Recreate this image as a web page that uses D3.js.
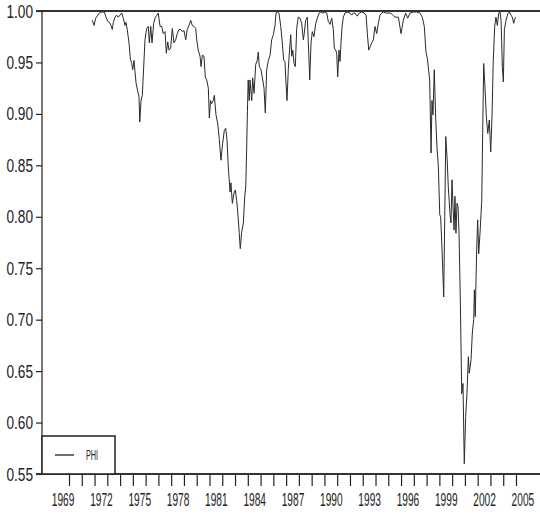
<!DOCTYPE html>
<html>
<head>
<meta charset="utf-8">
<script src="https://cdn.jsdelivr.net/npm/d3@7"></script>
<style>
body { margin: 0; background: #fff; }
svg { display: block; }
text { font-family: "Liberation Sans", Arial, sans-serif; fill: #222; }
</style>
</head>
<body>
<svg width="540" height="514"></svg>
<script>
// tick years (marks) and label years (centred in the year)
var yearTicks = d3.range(1970, 2006);
var yearLabels = [1969, 1972, 1975, 1978, 1981, 1984, 1987, 1990, 1993, 1996, 1999, 2002, 2005];
var valueTicks = [1.00, 0.95, 0.90, 0.85, 0.80, 0.75, 0.70, 0.65, 0.60, 0.55];

// series PHI (decimal year, value)
var years = [
  1971.82, 1971.96, 1972.09, 1972.25, 1972.37, 1972.51, 1972.64, 1972.76, 1972.90, 1973.03,
  1973.16, 1973.29, 1973.39, 1973.47, 1973.60, 1973.73, 1973.86, 1973.99, 1974.13, 1974.25,
  1974.38, 1974.46, 1974.56, 1974.70, 1974.80, 1974.91, 1974.99, 1975.09, 1975.17, 1975.25,
  1975.38, 1975.48, 1975.54, 1975.64, 1975.74, 1975.85, 1975.95, 1976.08, 1976.21, 1976.29,
  1976.40, 1976.50, 1976.63, 1976.76, 1976.89, 1976.99, 1977.13, 1977.26, 1977.38, 1977.52,
  1977.62, 1977.73, 1977.83, 1977.96, 1978.09, 1978.22, 1978.35, 1978.48, 1978.61, 1978.75,
  1978.87, 1979.00, 1979.14, 1979.26, 1979.40, 1979.53, 1979.65, 1979.79, 1979.92, 1980.00,
  1980.12, 1980.26, 1980.34, 1980.44, 1980.57, 1980.67, 1980.78, 1980.91, 1980.99, 1981.08,
  1981.17, 1981.30, 1981.38, 1981.51, 1981.64, 1981.77, 1981.90, 1982.03, 1982.16, 1982.27,
  1982.37, 1982.47, 1982.61, 1982.68, 1982.79, 1982.92, 1983.02, 1983.13, 1983.26, 1983.33,
  1983.41, 1983.52, 1983.65, 1983.76, 1983.84, 1983.91, 1983.97, 1984.03, 1984.11, 1984.17,
  1984.31, 1984.38, 1984.49, 1984.62, 1984.74, 1984.82, 1984.90, 1985.03, 1985.17, 1985.27,
  1985.37, 1985.48, 1985.61, 1985.74, 1985.87, 1986.00, 1986.13, 1986.21, 1986.31, 1986.44,
  1986.58, 1986.70, 1986.81, 1986.91, 1986.99, 1987.07, 1987.17, 1987.25, 1987.36, 1987.44,
  1987.52, 1987.62, 1987.72, 1987.83, 1987.95, 1988.09, 1988.22, 1988.35, 1988.42, 1988.53,
  1988.66, 1988.74, 1988.85, 1988.95, 1989.05, 1989.18, 1989.32, 1989.44, 1989.58, 1989.71,
  1989.87, 1990.05, 1990.18, 1990.30, 1990.44, 1990.57, 1990.70, 1990.77, 1990.88, 1990.96,
  1991.04, 1991.14, 1991.22, 1991.30, 1991.38, 1991.48, 1991.61, 1991.79, 1992.00, 1992.14,
  1992.26, 1992.39, 1992.57, 1992.73, 1992.92, 1993.10, 1993.26, 1993.36, 1993.47, 1993.57,
  1993.70, 1993.83, 1993.96, 1994.09, 1994.22, 1994.35, 1994.49, 1994.61, 1994.82, 1995.00,
  1995.19, 1995.35, 1995.53, 1995.79, 1996.00, 1996.18, 1996.36, 1996.52, 1996.70, 1996.96,
  1997.23, 1997.48, 1997.66, 1997.82, 1997.95, 1998.06, 1998.13, 1998.24, 1998.35, 1998.42,
  1998.50, 1998.60, 1998.71, 1998.81, 1998.92, 1999.03, 1999.10, 1999.21, 1999.34, 1999.42,
  1999.50, 1999.60, 1999.70, 1999.83, 1999.91, 1999.99, 2000.07, 2000.15, 2000.22, 2000.30,
  2000.38, 2000.46, 2000.54, 2000.64, 2000.75, 2000.85, 2000.95, 2001.06, 2001.16, 2001.27,
  2001.34, 2001.48, 2001.58, 2001.69, 2001.74, 2001.81, 2001.92, 2002.00, 2002.08, 2002.18,
  2002.32, 2002.39, 2002.47, 2002.57, 2002.68, 2002.79, 2002.91, 2003.02, 2003.12, 2003.22,
  2003.33, 2003.43, 2003.54, 2003.65, 2003.75, 2003.83, 2003.93, 2004.01, 2004.09, 2004.22,
  2004.35, 2004.48, 2004.61, 2004.71, 2004.82, 2004.92, 2005.00
];
var phi = [
  0.991, 0.986, 0.993, 0.996, 0.998, 0.999, 0.999, 0.999, 0.994, 0.990,
  0.989, 0.986, 0.982, 0.989, 0.994, 0.996, 0.994, 0.996, 0.998, 0.993,
  0.986, 0.989, 0.982, 0.969, 0.954, 0.949, 0.943, 0.952, 0.941, 0.930,
  0.922, 0.917, 0.892, 0.913, 0.918, 0.946, 0.972, 0.983, 0.985, 0.969,
  0.985, 0.969, 0.988, 0.994, 0.996, 0.998, 0.985, 0.985, 0.978, 0.980,
  0.959, 0.970, 0.962, 0.964, 0.983, 0.969, 0.972, 0.978, 0.982, 0.982,
  0.980, 0.981, 0.972, 0.982, 0.986, 0.991, 0.986, 0.985, 0.983, 0.972,
  0.962, 0.956, 0.946, 0.957, 0.956, 0.936, 0.933, 0.925, 0.896, 0.913,
  0.910, 0.913, 0.918, 0.899, 0.891, 0.875, 0.855, 0.871, 0.884, 0.886,
  0.875, 0.849, 0.824, 0.833, 0.813, 0.823, 0.826, 0.816, 0.797, 0.784,
  0.769, 0.785, 0.794, 0.820, 0.829, 0.865, 0.902, 0.933, 0.913, 0.933,
  0.913, 0.935, 0.920, 0.948, 0.952, 0.960, 0.946, 0.943, 0.933, 0.925,
  0.901, 0.943, 0.952, 0.957, 0.972, 0.977, 0.986, 0.998, 0.999, 0.998,
  0.985, 0.969, 0.952, 0.951, 0.930, 0.913, 0.943, 0.959, 0.977, 0.956,
  0.962, 0.949, 0.946, 0.983, 0.994, 0.993, 0.988, 0.972, 0.978, 0.991,
  0.994, 0.969, 0.933, 0.969, 0.980, 0.975, 0.988, 0.993, 0.998, 0.999,
  0.998, 0.999, 0.998, 0.990, 0.987, 0.993, 0.982, 0.964, 0.962, 0.959,
  0.936, 0.962, 0.951, 0.969, 0.985, 0.994, 0.998, 0.999, 0.998, 0.996,
  0.998, 0.998, 0.995, 0.998, 0.999, 0.998, 0.996, 0.978, 0.962, 0.965,
  0.969, 0.972, 0.985, 0.978, 0.988, 0.996, 0.998, 0.999, 0.998, 0.998,
  0.998, 0.996, 0.994, 0.994, 0.978, 0.991, 0.998, 0.993, 0.998, 0.999,
  0.999, 0.998, 0.994, 0.985, 0.960, 0.954, 0.946, 0.933, 0.862, 0.913,
  0.899, 0.943, 0.897, 0.868, 0.849, 0.802, 0.800, 0.768, 0.722, 0.800,
  0.878, 0.858, 0.829, 0.803, 0.794, 0.836, 0.810, 0.787, 0.820, 0.784,
  0.813, 0.810, 0.784, 0.719, 0.628, 0.638, 0.560, 0.606, 0.628, 0.664,
  0.648, 0.661, 0.687, 0.700, 0.729, 0.703, 0.768, 0.797, 0.764, 0.784,
  0.816, 0.881, 0.949, 0.926, 0.897, 0.881, 0.894, 0.863, 0.897, 0.952,
  0.985, 0.994, 0.986, 0.998, 0.999, 0.991, 0.946, 0.931, 0.982, 0.991,
  0.997, 0.999, 0.996, 0.994, 0.988, 0.993, 0.994
];

var svg = d3.select("svg"),
    width = +svg.attr("width");

var x = d3.scaleLinear().domain([1970, 2005]).range([69, 516]);
var y = d3.scaleLinear().domain([0.55, 1.00]).range([474, 11]);
var left = 42;

// narrow lettering: squeeze the glyphs horizontally
var ySqueeze = 0.72, xSqueeze = 0.58;

// series
var line = d3.line()
    .x(function(d, i) { return x(years[i]); })
    .y(function(d) { return y(d); });

svg.append("path")
    .datum(phi)
    .attr("fill", "none")
    .attr("stroke", "#2a2a2a")
    .attr("stroke-width", 1)
    .attr("stroke-linejoin", "round")
    .attr("d", line);

// y axis
var yAxis = svg.append("g")
    .attr("transform", "translate(" + left + ",0)")
    .call(d3.axisLeft(y).tickValues(valueTicks).tickSize(6).tickPadding(3)
      .tickFormat(d3.format(".2f")));
yAxis.select(".domain").remove();
yAxis.selectAll(".tick line").attr("stroke", "#222").attr("stroke-width", 1.2);
yAxis.selectAll("text")
    .attr("font-size", 19)
    .attr("font-family", null)
    .attr("fill", "#222")
    .attr("x", -9 / ySqueeze)
    .attr("transform", "scale(" + ySqueeze + ",1)");

// x axis marks
var xTicks = svg.append("g")
    .attr("transform", "translate(0," + y(0.55) + ")")
    .call(d3.axisBottom(x).tickValues(yearTicks).tickSize(12).tickFormat(""));
xTicks.select(".domain").remove();
xTicks.selectAll(".tick line").attr("stroke", "#222").attr("stroke-width", 1.2);

// x axis labels, centred in their year
var xLabels = svg.append("g")
    .attr("transform", "translate(0," + y(0.55) + ")")
    .call(d3.axisBottom(x).tickValues(yearLabels.map(function(d) { return d + 0.5; }))
      .tickSize(0).tickPadding(20).tickFormat(function(d) { return String(d - 0.5); }));
xLabels.select(".domain").remove();
xLabels.selectAll("text")
    .attr("font-size", 17.5)
    .attr("font-family", null)
    .attr("fill", "#222")
    .attr("transform", "scale(" + xSqueeze + ",1)");

// frame lines
svg.append("line")
    .attr("x1", left - 6).attr("x2", width)
    .attr("y1", y(1.00)).attr("y2", y(1.00))
    .attr("stroke", "#333").attr("stroke-width", 2);
svg.append("line")
    .attr("x1", left - 6).attr("x2", width)
    .attr("y1", y(0.55)).attr("y2", y(0.55))
    .attr("stroke", "#333").attr("stroke-width", 2);
svg.append("line")
    .attr("x1", left).attr("x2", left)
    .attr("y1", y(1.00)).attr("y2", y(0.55))
    .attr("stroke", "#222").attr("stroke-width", 1.2);

// legend
var legend = svg.append("g");
legend.append("rect")
    .attr("x", left).attr("y", 436)
    .attr("width", 73).attr("height", y(0.55) - 436)
    .attr("fill", "#fff")
    .attr("stroke", "#222").attr("stroke-width", 1.5);
legend.append("line")
    .attr("x1", 55).attr("x2", 74)
    .attr("y1", 455).attr("y2", 455)
    .attr("stroke", "#222").attr("stroke-width", 1.3);
legend.append("text")
    .attr("transform", "translate(86,460) scale(0.52,1)")
    .attr("font-size", 14)
    .text("PHI");
</script>
</body>
</html>
